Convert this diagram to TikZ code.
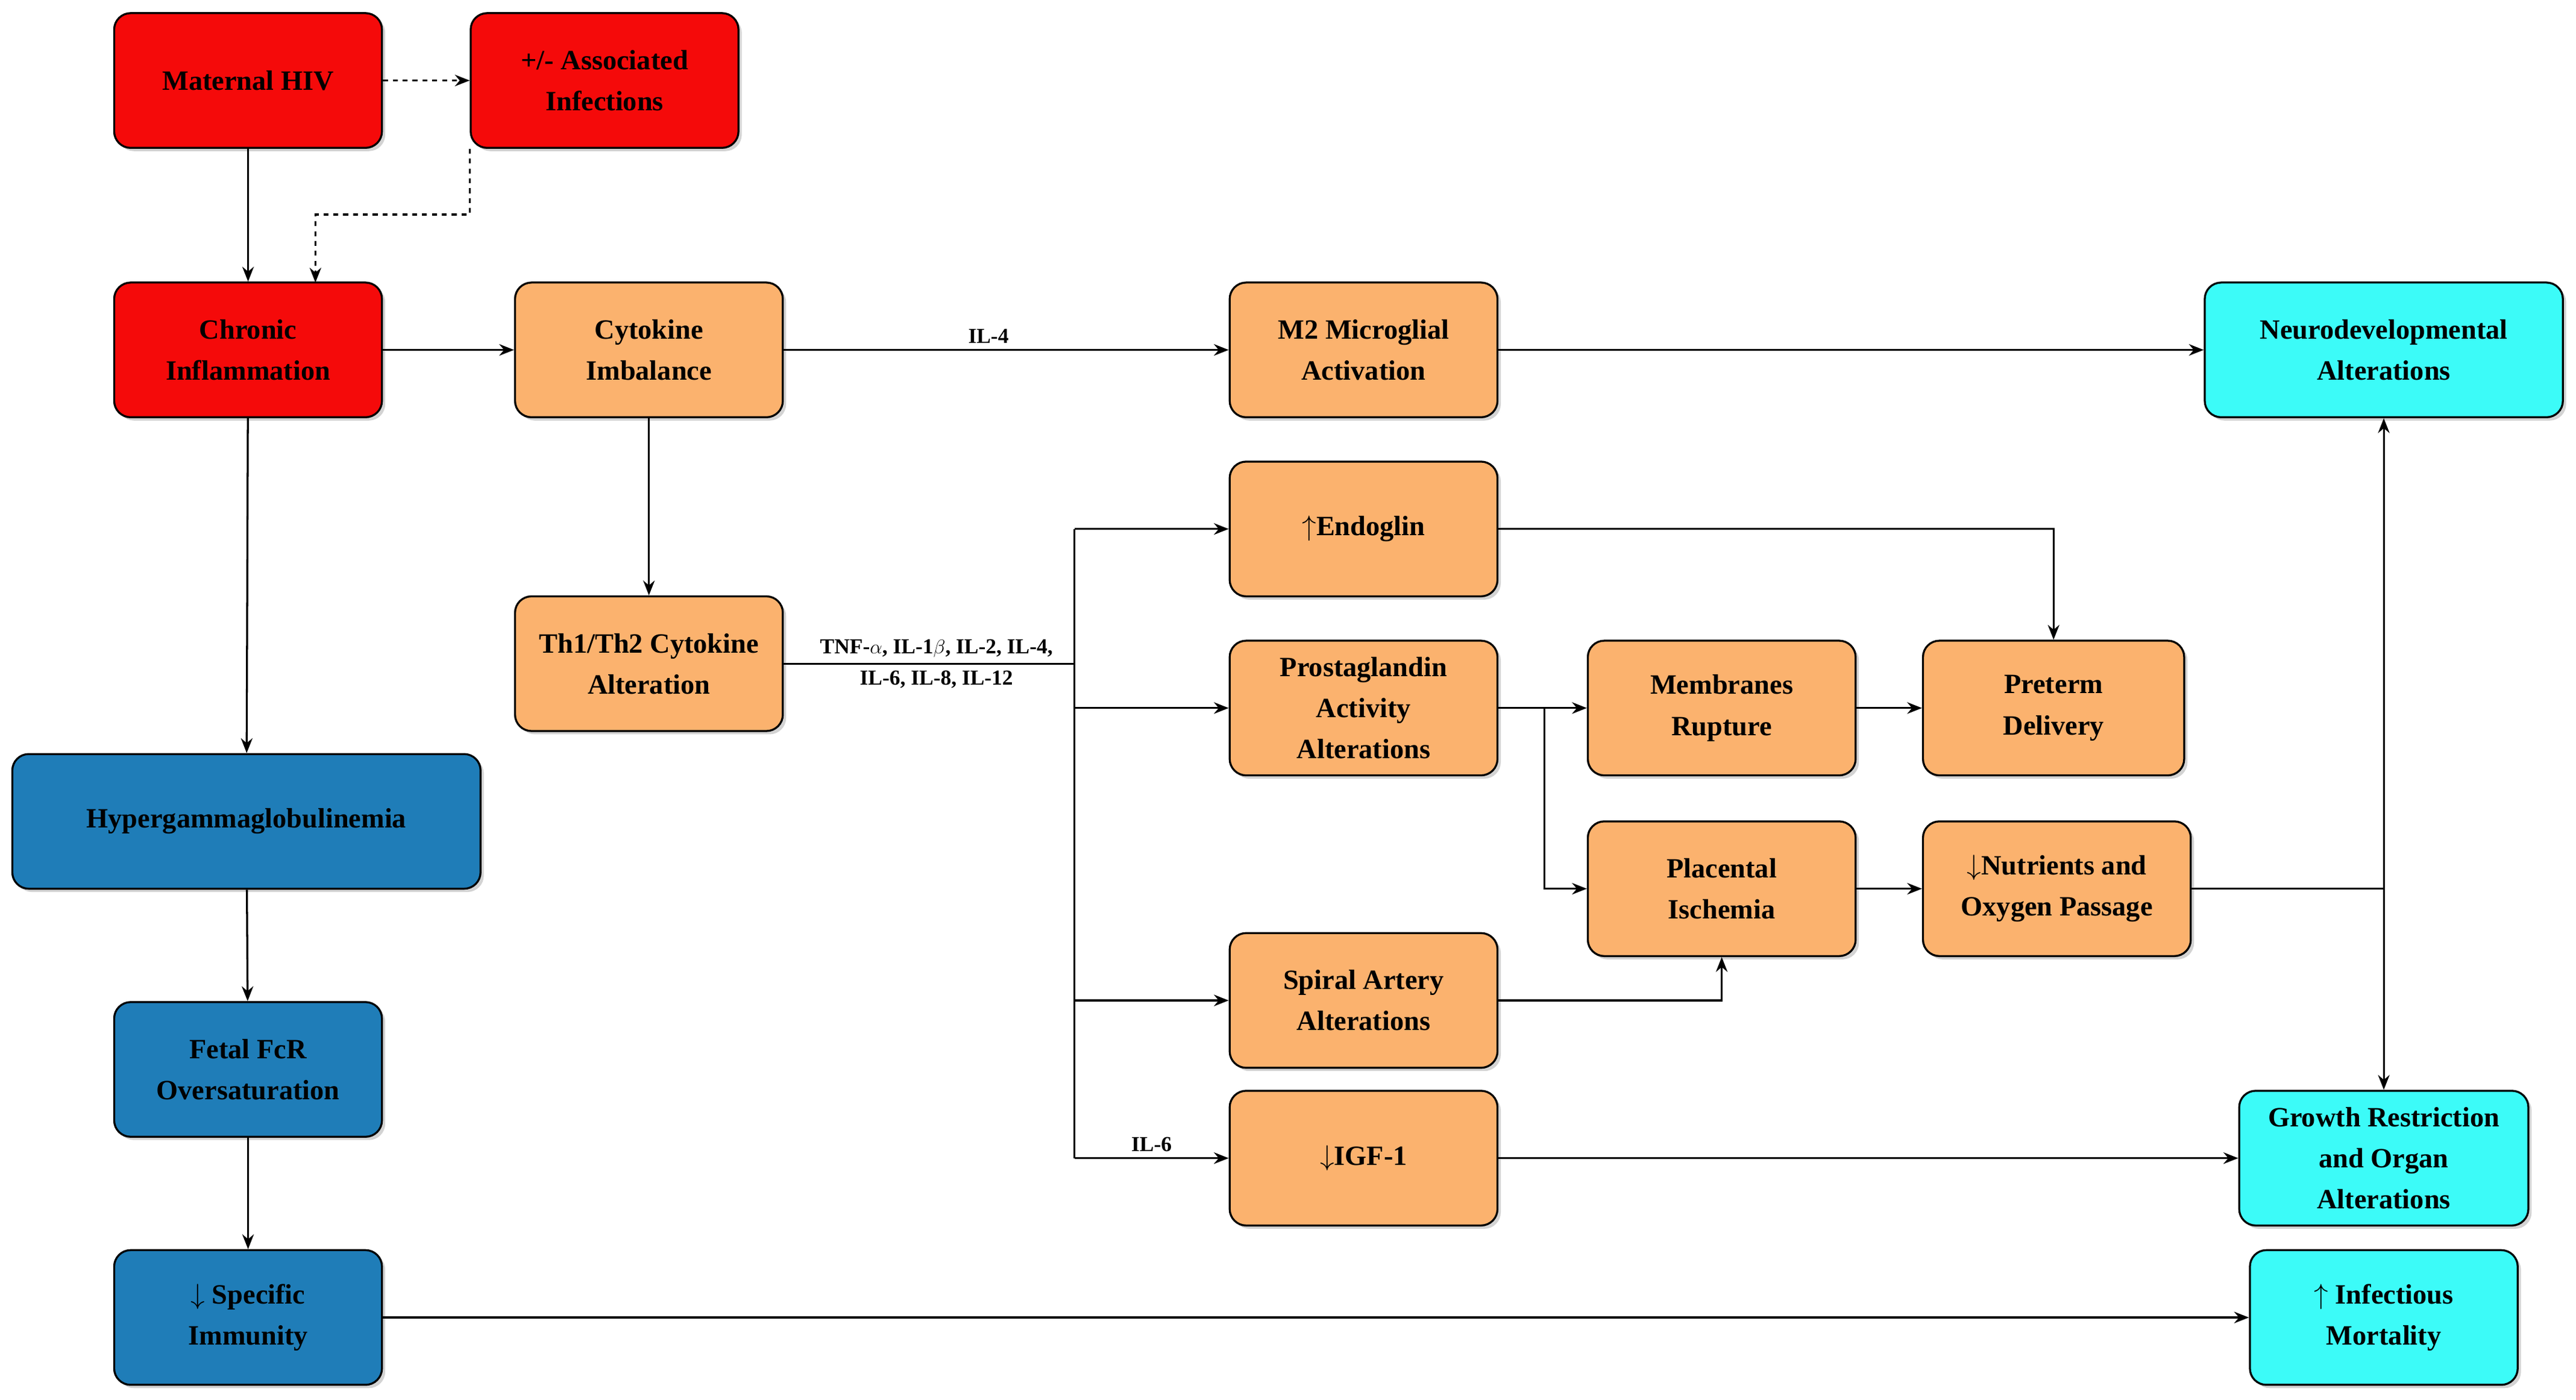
\documentclass[tikz,border=0pt]{standalone}
\usepackage{fontspec}
\setmainfont{Liberation Serif}
\usetikzlibrary{arrows.meta,shadows}
\definecolor{cred}{HTML}{F50A0A}
\definecolor{corg}{HTML}{FBB26E}
\definecolor{cblu}{HTML}{1F7DB8}
\definecolor{ccya}{HTML}{3CFBF8}
\begin{document}
\begin{tikzpicture}[x=1pt,y=-1pt,
  box/.style={draw=black,line width=1.2pt,rounded corners=10pt,minimum width=163pt,minimum height=82pt,align=center,font=\fontsize{17}{25}\selectfont\bfseries,inner sep=2pt,drop shadow={shadow xshift=2pt,shadow yshift=-2pt,opacity=0.35}},
  r/.style={box,fill=cred},o/.style={box,fill=corg},b/.style={box,fill=cblu},c/.style={box,fill=ccya},
  ar/.style={line width=1.2pt,-{Stealth[length=9pt,width=7pt]}},
  lab/.style={font=\fontsize{13}{15}\selectfont\bfseries}]
\useasboundingbox (0,0) rectangle (1568,852);
\node[r] (hiv) at (151,49) {Maternal HIV};
\node[r] (ass) at (368,49) {+/- Associated\\Infections};
\node[r] (chr) at (151,213) {Chronic\\Inflammation};
\node[o] (cyt) at (395,213) {Cytokine\\Imbalance};
\node[o] (m2) at (830,213) {M2 Microglial\\Activation};
\node[c,minimum width=218pt] (neu) at (1451,213) {Neurodevelopmental\\Alterations};
\node[o] (end) at (830,322) {$\uparrow$Endoglin};
\node[o] (th) at (395,404) {Th1/Th2 Cytokine\\Alteration};
\node[o] (pro) at (830,431) {Prostaglandin\\Activity\\Alterations};
\node[o] (mem) at (1048,431) {Membranes\\Rupture};
\node[o,minimum width=159pt] (pre) at (1250,431) {Preterm\\Delivery};
\node[b,minimum width=285pt] (hyp) at (150,500) {Hypergammaglobulinemia};
\node[o] (pla) at (1048,541) {Placental\\Ischemia};
\node[o] (nut) at (1252,541) {$\downarrow$Nutrients and\\Oxygen Passage};
\node[o] (spi) at (830,609) {Spiral Artery\\Alterations};
\node[b] (fcr) at (151,651) {Fetal FcR\\Oversaturation};
\node[o] (igf) at (830,705) {$\downarrow$IGF-1};
\node[c,minimum width=176pt] (gro) at (1451,705) {Growth Restriction\\and Organ\\Alterations};
\node[b] (spe) at (151,802) {$\downarrow$ Specific\\Immunity};
\node[c] (mor) at (1451,802) {$\uparrow$ Infectious\\Mortality};
\coordinate (t1) at (654,404);
\draw[ar,dashed] (hiv) -- (ass);
\draw[ar,dashed] (ass.south west) ++(0,0) -- ++(0,40) -| (192,172);
\draw[ar] (hiv) -- (chr);
\draw[ar] (chr) -- (cyt);
\draw[ar] (cyt) -- node[lab,above,pos=0.46]{IL-4} (m2);
\draw[ar] (m2) -- (neu);
\draw[ar] (cyt) -- (th);
\draw[ar] (chr) -- (hyp);
\draw[ar] (hyp) -- (fcr);
\draw[ar] (fcr) -- (spe);
\draw[ar] (spe) -- (mor);
\draw[line width=1.2pt] (th) -- (t1);
\node[lab,align=center] at (570,404) {TNF-$\alpha$, IL-1$\beta$, IL-2, IL-4,\\[4pt]IL-6, IL-8, IL-12};
\draw[line width=1.2pt] (654,322) -- (654,705);
\draw[ar] (654,322) -- (end);
\draw[ar] (654,431) -- (pro);
\draw[ar] (654,609) -- (spi);
\draw[ar] (654,705) -- node[lab,above,pos=0.5]{IL-6} (igf);
\draw[ar] (end) -| (pre);
\draw[ar] (pro) -- (mem);
\draw[ar] (940,431) |- (pla);
\draw[ar] (mem) -- (pre);
\draw[ar] (spi) -| (pla);
\draw[ar] (pla) -- (nut);
\draw[line width=1.2pt] (nut) -- (1451,541);
\draw[ar] (1451,541) -- (neu);
\draw[ar] (1451,541) -- (gro);
\draw[ar] (igf) -- (gro);
\end{tikzpicture}
\end{document}
